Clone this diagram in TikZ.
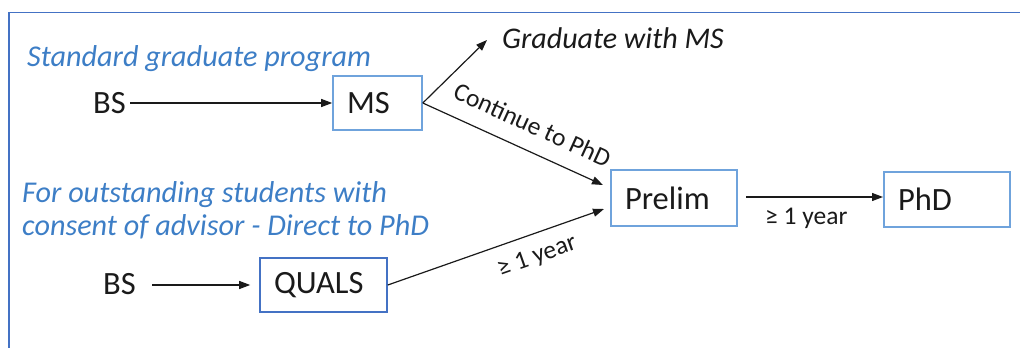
\documentclass[tikz,border=0pt]{standalone}
\usepackage{fontspec}
\setmainfont{Carlito}
\usetikzlibrary{arrows.meta}
\definecolor{frameblue}{HTML}{4472C4}
\definecolor{boxblue}{HTML}{6FA3DC}
\definecolor{titleblue}{HTML}{3D7EC6}
\definecolor{ink}{HTML}{1A1A1A}
\tikzset{
  lbl/.style={font=\fontsize{32.5}{36}\selectfont, text=ink},
  ttl/.style={font=\fontsize{30.2}{33}\selectfont\itshape, text=titleblue, inner sep=0pt, align=left},
  small/.style={font=\fontsize{25.5}{28}\selectfont, text=ink},
  box/.style={lbl, draw=boxblue, line width=1.6pt, inner xsep=14pt, inner ysep=0pt, align=left},
  conn/.style={draw=ink, line width=1.2pt, -{Triangle[length=11pt,width=8pt]}},
}
\begin{document}
\begin{tikzpicture}[x=1pt,y=-1pt]
\useasboundingbox (0,0) rectangle (1020,348);
% frame
\draw[frameblue, line width=1.6pt] (8.8,348) -- (8.8,12.6) -- (1020,12.6);
% titles
\node[ttl, anchor=base west] (t1) at (27,66) {Standard graduate program};
\node[ttl, anchor=base west] (t2a) at (22,202) {For outstanding students with};
\node[ttl, anchor=base west] (t2b) at (22,235) {consent of advisor - Direct to PhD};
\node[font=\fontsize{30}{33}\selectfont\itshape, text=ink, inner sep=0pt, anchor=base west] (grad) at (502,48) {Graduate with MS};
% nodes
\node[lbl, inner sep=0pt, anchor=base west] (bs1) at (93,113) {BS};
\node[lbl, inner sep=0pt, anchor=base west] (bs2) at (103,294) {BS};
\node[box, text width=61pt, minimum height=54pt] (ms) at (377.5,103) {MS};
\node[box, text width=98pt, minimum height=56pt] (prelim) at (674,198) {Prelim};
\node[box, text width=98pt, minimum height=55pt] (phd) at (947,199.5) {PhD};
\node[box, draw=frameblue, text width=99pt, minimum height=54pt] (quals) at (323.5,285) {QUALS};
% connector ends
\coordinate (gradtip) at (487,40);
\coordinate (p1) at (603,185);
\coordinate (p2) at (604,209);
\coordinate (a3s) at (746,197);
\coordinate (a3e) at (883,197);
\coordinate (a1s) at (130,103);
\coordinate (a2s) at (152,285);
% connectors
\draw[conn] (a1s) -- (ms.west);
\draw[conn, shorten >=9pt] (a2s) -- (quals.west);
\draw[conn] (ms.east) -- (gradtip);
\draw[conn] (ms.east) -- node[small, sloped, pos=0.55, anchor=south, inner ysep=16pt, inner xsep=0pt] {Continue to PhD} (p1);
\draw[conn] (quals.east) -- node[small, sloped, pos=0.656, anchor=north, inner ysep=12pt, inner xsep=0pt] {≥ 1 year} (p2);
\draw[conn] (a3s) -- node[small, pos=0.44, anchor=north, inner ysep=10pt] {≥ 1 year} (a3e);
\end{tikzpicture}
\end{document}
